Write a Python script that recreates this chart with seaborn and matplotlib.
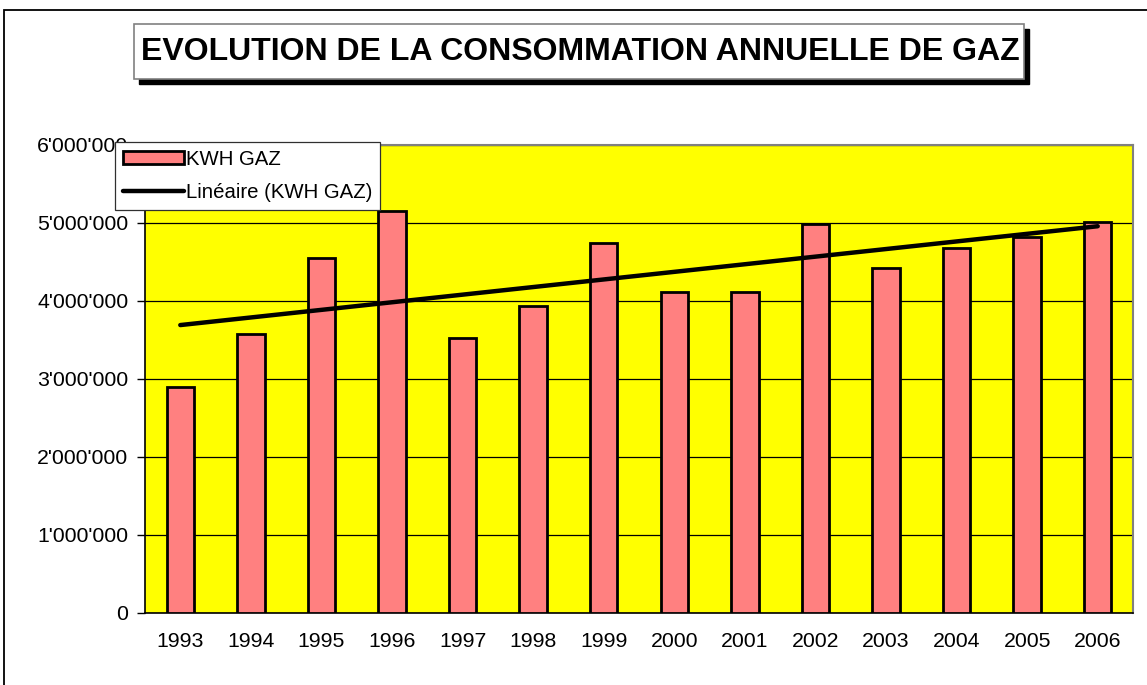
import numpy as np
import matplotlib
matplotlib.use("Agg")
import matplotlib.pyplot as plt
from matplotlib.patches import Rectangle
from matplotlib.ticker import FuncFormatter, FixedLocator
import seaborn as sns

# Data
years = ["1993", "1994", "1995", "1996", "1997", "1998", "1999",
         "2000", "2001", "2002", "2003", "2004", "2005", "2006"]
kwh_gaz = [2900000, 3580000, 4550000, 5150000, 3530000, 3940000, 4740000,
           4120000, 4120000, 4990000, 4420000, 4680000, 4820000, 5010000]
y_ticks = [0, 1000000, 2000000, 3000000, 4000000, 5000000, 6000000]

sns.set_style("white")
plt.rcParams['font.family'] = ['Liberation Sans', 'DejaVu Sans']
plt.rcParams['text.color'] = 'black'
plt.rcParams['xtick.color'] = 'black'
plt.rcParams['ytick.color'] = 'black'

W, H = 1147, 685
fig = plt.figure(figsize=(W / 100, H / 100), dpi=100)


def px_box(x0, y0, x1, y1):
    # pixel box (top-left origin) -> figure fraction (left, bottom, width, height)
    return x0 / W, 1 - y1 / H, (x1 - x0) / W, (y1 - y0) / H


# outer chart border
l, b, w, h = px_box(4, 10, W + 5, H + 5)
fig.patches.append(Rectangle((l, b), w, h, transform=fig.transFigure,
                             fill=False, edgecolor="black", linewidth=1.3, zorder=0))

ax = fig.add_axes(px_box(145, 145, 1133, 613))
ax.set_facecolor("#FFFF00")

idx = np.arange(len(years))
sns.barplot(x=idx, y=kwh_gaz, color="#FF8080", edgecolor="black", linewidth=2,
            width=0.39, saturation=1, ax=ax, label="KWH GAZ", zorder=3)

# linear trend through the bars
sns.regplot(x=idx, y=np.array(kwh_gaz), scatter=False, ci=None, truncate=True,
            label="Linéaire (KWH GAZ)",
            line_kws={"color": "black", "linewidth": 3.2, "zorder": 4,
                      "solid_capstyle": "round"},
            ax=ax)

ax.set_xlim(-0.5, len(years) - 0.5)
ax.set_ylim(0, 6000000)
ax.set_xlabel("")
ax.set_ylabel("")

ax.yaxis.set_major_locator(FixedLocator(y_ticks))
ax.yaxis.set_major_formatter(FuncFormatter(lambda v, p: f"{int(v):,}".replace(",", "'")))
ax.set_xticks(idx)
ax.set_xticklabels(years)
ax.set_xticks(np.arange(len(years) + 1) - 0.5, minor=True)
ax.tick_params(axis="x", which="major", length=0, pad=14, labelsize=15.3)
ax.tick_params(axis="x", which="minor", length=6, width=1, color="black", direction="out")
ax.tick_params(axis="y", length=6, width=1, color="black", direction="out",
               pad=6, labelsize=15.3, left=True)

ax.grid(axis="y", color="black", linewidth=0.9, zorder=1)
ax.grid(axis="x", visible=False)
ax.set_axisbelow(True)

for side in ["top", "right"]:
    ax.spines[side].set_color("#808080")
    ax.spines[side].set_linewidth(1.5)
for side in ["left", "bottom"]:
    ax.spines[side].set_color("black")
    ax.spines[side].set_linewidth(1.2)

# legend box: bars first, then the trend line
handles, labels = ax.get_legend_handles_labels()
order = [labels.index("KWH GAZ"), labels.index("Linéaire (KWH GAZ)")]
leg = ax.legend([handles[i] for i in order], [labels[i] for i in order], loc="upper left",
                bbox_to_anchor=(115 / W, 1 - 142 / H), bbox_transform=fig.transFigure,
                fontsize=14.7, frameon=True, fancybox=False, framealpha=1,
                edgecolor="#303030", handlelength=3.0, handleheight=0.65,
                handletextpad=0.1, borderpad=0.38, labelspacing=0.72,
                borderaxespad=0)
leg.get_frame().set_linewidth(0.9)
leg.set_zorder(10)

# title box with drop shadow
l, b, w, h = px_box(139, 29, 1029, 84)
fig.patches.append(Rectangle((l, b), w, h, transform=fig.transFigure,
                             facecolor="black", edgecolor="black", zorder=1))
l, b, w, h = px_box(134, 24, 1024, 79)
fig.patches.append(Rectangle((l, b), w, h, transform=fig.transFigure,
                             facecolor="white", edgecolor="#808080", linewidth=1.2, zorder=2))
fig.text(580 / W, 1 - 52 / H, "EVOLUTION DE LA CONSOMMATION ANNUELLE DE GAZ",
         ha="center", va="center", fontsize=23, fontweight="bold", zorder=3)

fig.savefig("out.png", dpi=100)
